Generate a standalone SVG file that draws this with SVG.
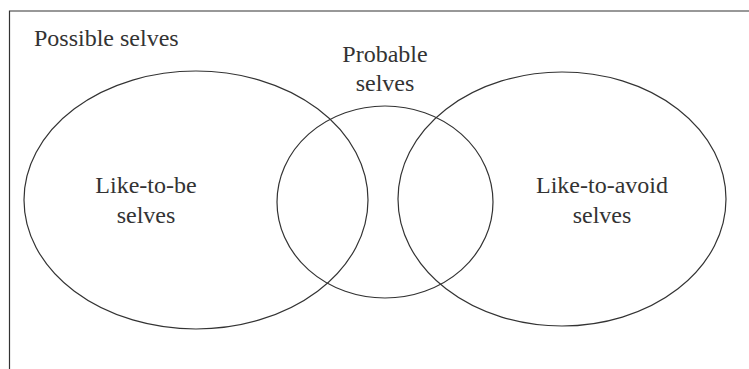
<svg xmlns="http://www.w3.org/2000/svg" width="749" height="369" viewBox="0 0 749 369">
<style>
.sh{fill:none;stroke:#333;stroke-width:1.2}
.t{font-family:"Liberation Serif",serif;font-size:24px;fill:#333}
</style>
<rect width="749" height="369" fill="#fff"/>
<g id="frame">
<path class="sh" d="M9.5,369 V11 H749"/>
<text class="t" x="34" y="46">Possible selves</text>
</g>
<g id="like-to-be">
<ellipse class="sh" cx="196" cy="200" rx="172" ry="129"/>
<text class="t" x="146" y="193" text-anchor="middle">Like-to-be</text>
<text class="t" x="146" y="223" text-anchor="middle">selves</text>
</g>
<g id="like-to-avoid">
<ellipse class="sh" cx="562" cy="199" rx="164" ry="127"/>
<text class="t" x="602" y="193" text-anchor="middle">Like-to-avoid</text>
<text class="t" x="602" y="223" text-anchor="middle">selves</text>
</g>
<g id="probable">
<ellipse class="sh" cx="385" cy="202" rx="108" ry="96"/>
<text class="t" x="385" y="62" text-anchor="middle">Probable</text>
<text class="t" x="385" y="91" text-anchor="middle">selves</text>
</g>
<g id="connectors"/>
</svg>
